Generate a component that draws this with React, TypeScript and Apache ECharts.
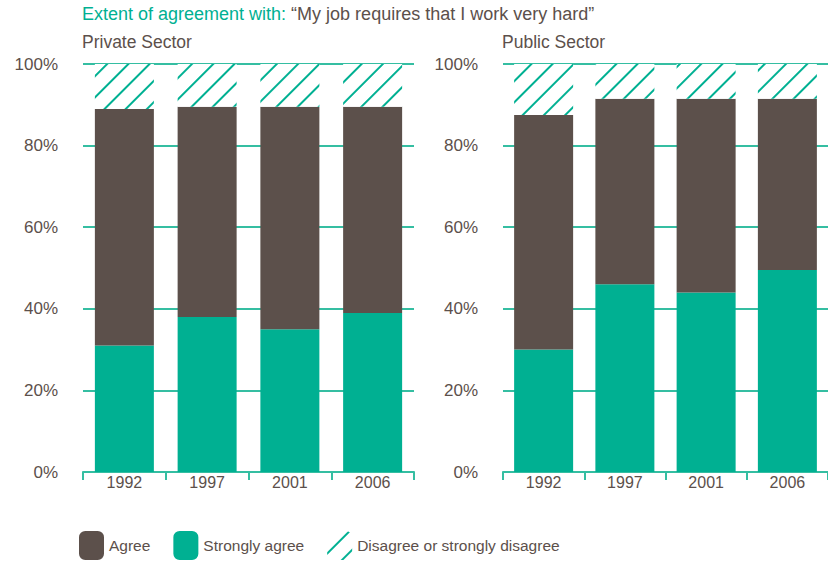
import React, { useEffect, useRef } from "react";
import * as echarts from "echarts";

const years = ["1992", "1997", "2001", "2006"];
const privateStrongly = [31, 38, 35, 39];
const privateAgree = [58, 51.5, 54.5, 50.5];
const privateDisagree = [11, 10.5, 10.5, 10.5];
const publicStrongly = [30, 46, 44, 49.5];
const publicAgree = [57.5, 45.5, 47.5, 42];
const publicDisagree = [12.5, 8.5, 8.5, 8.5];
const yTicks = [0, 20, 40, 60, 80, 100];

const TEAL = "#00b092";
const LINE = "#35bea2";
const BROWN = "#5c504b";
const FONT = "'Liberation Sans', Arial, Helvetica, sans-serif";

export default function App() {
  const ref = useRef<HTMLDivElement>(null);
  useEffect(() => {
    if (!ref.current) return;
    const chart = echarts.init(ref.current, null, { renderer: "svg" });
    const hatch = {
      color: "#ffffff",
      decal: {
        symbol: "rect",
        symbolSize: 1,
        dashArrayX: [1, 0],
        dashArrayY: [1.6, 12.5],
        rotation: -Math.PI / 4,
        color: TEAL,
      },
    };
    const grids = [
      { left: 83, top: 64, width: 331, height: 408 },
      { left: 503, top: 64, width: 331, height: 408 },
    ];
    const xAxes = [0, 1].map((i) => ({
      type: "category",
      gridIndex: i,
      data: years,
      axisLine: { lineStyle: { color: LINE, width: 2 } },
      axisTick: { show: true, length: 8, lineStyle: { color: LINE, width: 2 } },
      axisLabel: { color: BROWN, fontSize: 16, fontFamily: FONT, margin: 2 },
    }));
    const yAxes = [0, 1].map((i) => ({
      type: "value",
      gridIndex: i,
      min: yTicks[0],
      max: yTicks[yTicks.length - 1],
      interval: 20,
      axisLine: { show: false },
      axisTick: { show: false },
      splitLine: { lineStyle: { color: LINE, width: 2 } },
      axisLabel: {
        color: BROWN,
        fontSize: 17,
        fontFamily: FONT,
        margin: 25,
        formatter: "{value}%",
      },
    }));
    const mk = (name: string, idx: number, data: number[], style: any) => ({
      name,
      type: "bar",
      stack: "s" + idx,
      xAxisIndex: idx,
      yAxisIndex: idx,
      barWidth: 59,
      data,
      itemStyle: style,
    });
    chart.setOption({
      animation: false,
      title: [
        {
          left: 82,
          top: 5,
          padding: 0,
          text: "{a|Extent of agreement with:} {b|“My job requires that I work very hard”}",
          textStyle: {
            rich: {
              a: { color: TEAL, fontSize: 18, fontWeight: "normal", fontFamily: FONT },
              b: { color: BROWN, fontSize: 18, fontWeight: "normal", fontFamily: FONT },
            },
          },
        },
        {
          left: 82,
          top: 33,
          padding: 0,
          text: "Private Sector",
          textStyle: { color: BROWN, fontSize: 17.5, fontWeight: "normal", fontFamily: FONT },
        },
        {
          left: 502,
          top: 33,
          padding: 0,
          text: "Public Sector",
          textStyle: { color: BROWN, fontSize: 17.5, fontWeight: "normal", fontFamily: FONT },
        },
      ],
      legend: {
        left: 79,
        top: 531,
        padding: 0,
        itemWidth: 25,
        itemHeight: 29,
        itemGap: 23,
        data: ["Agree", "Strongly agree", "Disagree or strongly disagree"],
        textStyle: { color: BROWN, fontSize: 15.5, fontFamily: FONT },
        selectedMode: false,
      },
      grid: grids,
      xAxis: xAxes,
      yAxis: yAxes,
      series: [
        mk("Strongly agree", 0, privateStrongly, { color: TEAL }),
        mk("Agree", 0, privateAgree, { color: BROWN }),
        mk("Disagree or strongly disagree", 0, privateDisagree, hatch),
        mk("Strongly agree", 1, publicStrongly, { color: TEAL }),
        mk("Agree", 1, publicAgree, { color: BROWN }),
        mk("Disagree or strongly disagree", 1, publicDisagree, hatch),
      ],
    });
    return () => chart.dispose();
  }, []);
  return <div ref={ref} style={{ width: 828, height: 561, position: "absolute", left: 0, top: 0 }} />;
}
